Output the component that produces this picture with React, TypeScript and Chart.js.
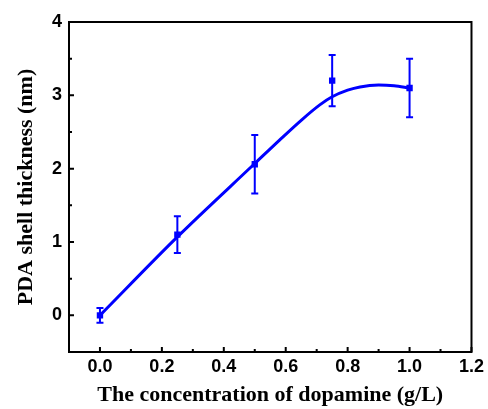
import React, { useEffect, useRef } from "react";
import { Chart, registerables } from "chart.js";

Chart.register(...registerables);

const concentration = [0, 0.25, 0.5, 0.75, 1.0];
const thickness = [0.0, 1.1, 2.06, 3.2, 3.1];
const thicknessError = [0.1, 0.25, 0.4, 0.35, 0.4];

const fitX = [0, 0.25, 0.5, 0.58, 0.65, 0.71, 0.75, 0.8, 0.84, 0.9, 0.95, 1.0];
const fitY = [0, 1.07, 2.07, 2.39, 2.66, 2.87, 2.98, 3.07, 3.115, 3.14, 3.13, 3.1];

const xTicks = [0, 0.2, 0.4, 0.6, 0.8, 1.0, 1.2];
const xMinorTicks = [0.1, 0.3, 0.5, 0.7, 0.9, 1.1];
const yTicks = [0, 1, 2, 3, 4];
const yMinorTicks = [0.5, 1.5, 2.5, 3.5];

const BLUE = "#0000ff";

const framePlugin = {
  id: "frameAndTicks",
  afterDatasetsDraw(chart: any) {
    const { ctx, chartArea, scales } = chart;
    const xs = scales.x;
    const ys = scales.y;
    ctx.save();
    // error bars
    const meta = chart.getDatasetMeta(1);
    ctx.strokeStyle = BLUE;
    ctx.lineWidth = 2;
    meta.data.forEach((pt: any, i: number) => {
      const x = pt.x;
      const yTop = ys.getPixelForValue(thickness[i] + thicknessError[i]);
      const yBot = ys.getPixelForValue(thickness[i] - thicknessError[i]);
      ctx.beginPath();
      ctx.moveTo(x, yTop);
      ctx.lineTo(x, yBot);
      ctx.moveTo(x - 3.5, yTop);
      ctx.lineTo(x + 3.5, yTop);
      ctx.moveTo(x - 3.5, yBot);
      ctx.lineTo(x + 3.5, yBot);
      ctx.stroke();
    });
    // frame
    ctx.strokeStyle = "#000";
    ctx.lineWidth = 2;
    ctx.strokeRect(chartArea.left, chartArea.top, chartArea.right - chartArea.left, chartArea.bottom - chartArea.top);
    // inward ticks
    ctx.beginPath();
    xTicks.forEach((v) => {
      const px = xs.getPixelForValue(v);
      ctx.moveTo(px, chartArea.bottom);
      ctx.lineTo(px, chartArea.bottom - 5);
    });
    xMinorTicks.forEach((v) => {
      const px = xs.getPixelForValue(v);
      ctx.moveTo(px, chartArea.bottom);
      ctx.lineTo(px, chartArea.bottom - 3);
    });
    yTicks.forEach((v) => {
      const py = ys.getPixelForValue(v);
      ctx.moveTo(chartArea.left, py);
      ctx.lineTo(chartArea.left + 5, py);
    });
    yMinorTicks.forEach((v) => {
      const py = ys.getPixelForValue(v);
      ctx.moveTo(chartArea.left, py);
      ctx.lineTo(chartArea.left + 3, py);
    });
    ctx.stroke();
    ctx.restore();
  },
};

export default function App() {
  const canvasRef = useRef<HTMLCanvasElement | null>(null);

  useEffect(() => {
    document.body.style.margin = "0";
    const canvas = canvasRef.current;
    if (!canvas) return;
    const tickFont = { family: "'Liberation Sans', Arial, sans-serif", weight: "bold" as const, size: 18 };
    const xTitleFont = { family: "'Liberation Serif', 'Times New Roman', serif", weight: "bold" as const, size: 22 };
    const yTitleFont = { family: "'Liberation Serif', 'Times New Roman', serif", weight: "bold" as const, size: 22 };
    const chart = new Chart(canvas, {
      type: "scatter",
      data: {
        datasets: [
          {
            type: "line",
            data: fitX.map((x, i) => ({ x, y: fitY[i] })),
            borderColor: BLUE,
            borderWidth: 3,
            pointRadius: 0,
            cubicInterpolationMode: "monotone",
            fill: false,
          } as any,
          {
            type: "scatter",
            data: concentration.map((x, i) => ({ x, y: thickness[i] })),
            backgroundColor: BLUE,
            borderColor: BLUE,
            pointStyle: "rect",
            pointRadius: 4.5,
            borderWidth: 0,
          } as any,
        ],
      },
      options: {
        animation: false,
        responsive: false,
        devicePixelRatio: 1,
        layout: { padding: { left: 0, right: 16, top: 22, bottom: 0 } },
        plugins: { legend: { display: false }, tooltip: { enabled: false } },
        scales: {
          x: {
            type: "linear",
            min: -0.1,
            max: 1.2,
            grid: { display: false, drawTicks: false },
            border: { display: false },
            afterBuildTicks: (scale: any) => {
              scale.ticks = xTicks.map((v) => ({ value: v }));
            },
            afterFit: (scale: any) => {
              scale.height = 57;
            },
            ticks: {
              color: "#000",
              font: tickFont,
              padding: 4,
              maxRotation: 0,
              callback: (v: any) => Number(v).toFixed(1),
            },
            title: {
              display: true,
              text: "The concentration of dopamine (g/L)",
              color: "#000",
              font: xTitleFont,
              padding: { top: 0, bottom: 0 },
            },
          },
          y: {
            type: "linear",
            min: -0.5,
            max: 4,
            grid: { display: false, drawTicks: false },
            border: { display: false },
            afterBuildTicks: (scale: any) => {
              scale.ticks = yTicks.map((v) => ({ value: v }));
            },
            afterFit: (scale: any) => {
              scale.width = 69;
            },
            ticks: {
              color: "#000",
              font: tickFont,
              padding: 7,
              callback: (v: any) => String(v),
            },
            title: {
              display: true,
              text: "PDA shell thickness (nm)",
              color: "#000",
              font: yTitleFont,
              padding: { top: 13, bottom: 0 },
            },
          },
        },
      },
      plugins: [framePlugin],
    });
    return () => chart.destroy();
  }, []);

  return (
    <div style={{ position: "absolute", left: 0, top: 0, width: 488, height: 409, background: "#fff" }}>
      <canvas ref={canvasRef} width={488} height={409} style={{ width: 488, height: 409, display: "block" }} />
    </div>
  );
}
